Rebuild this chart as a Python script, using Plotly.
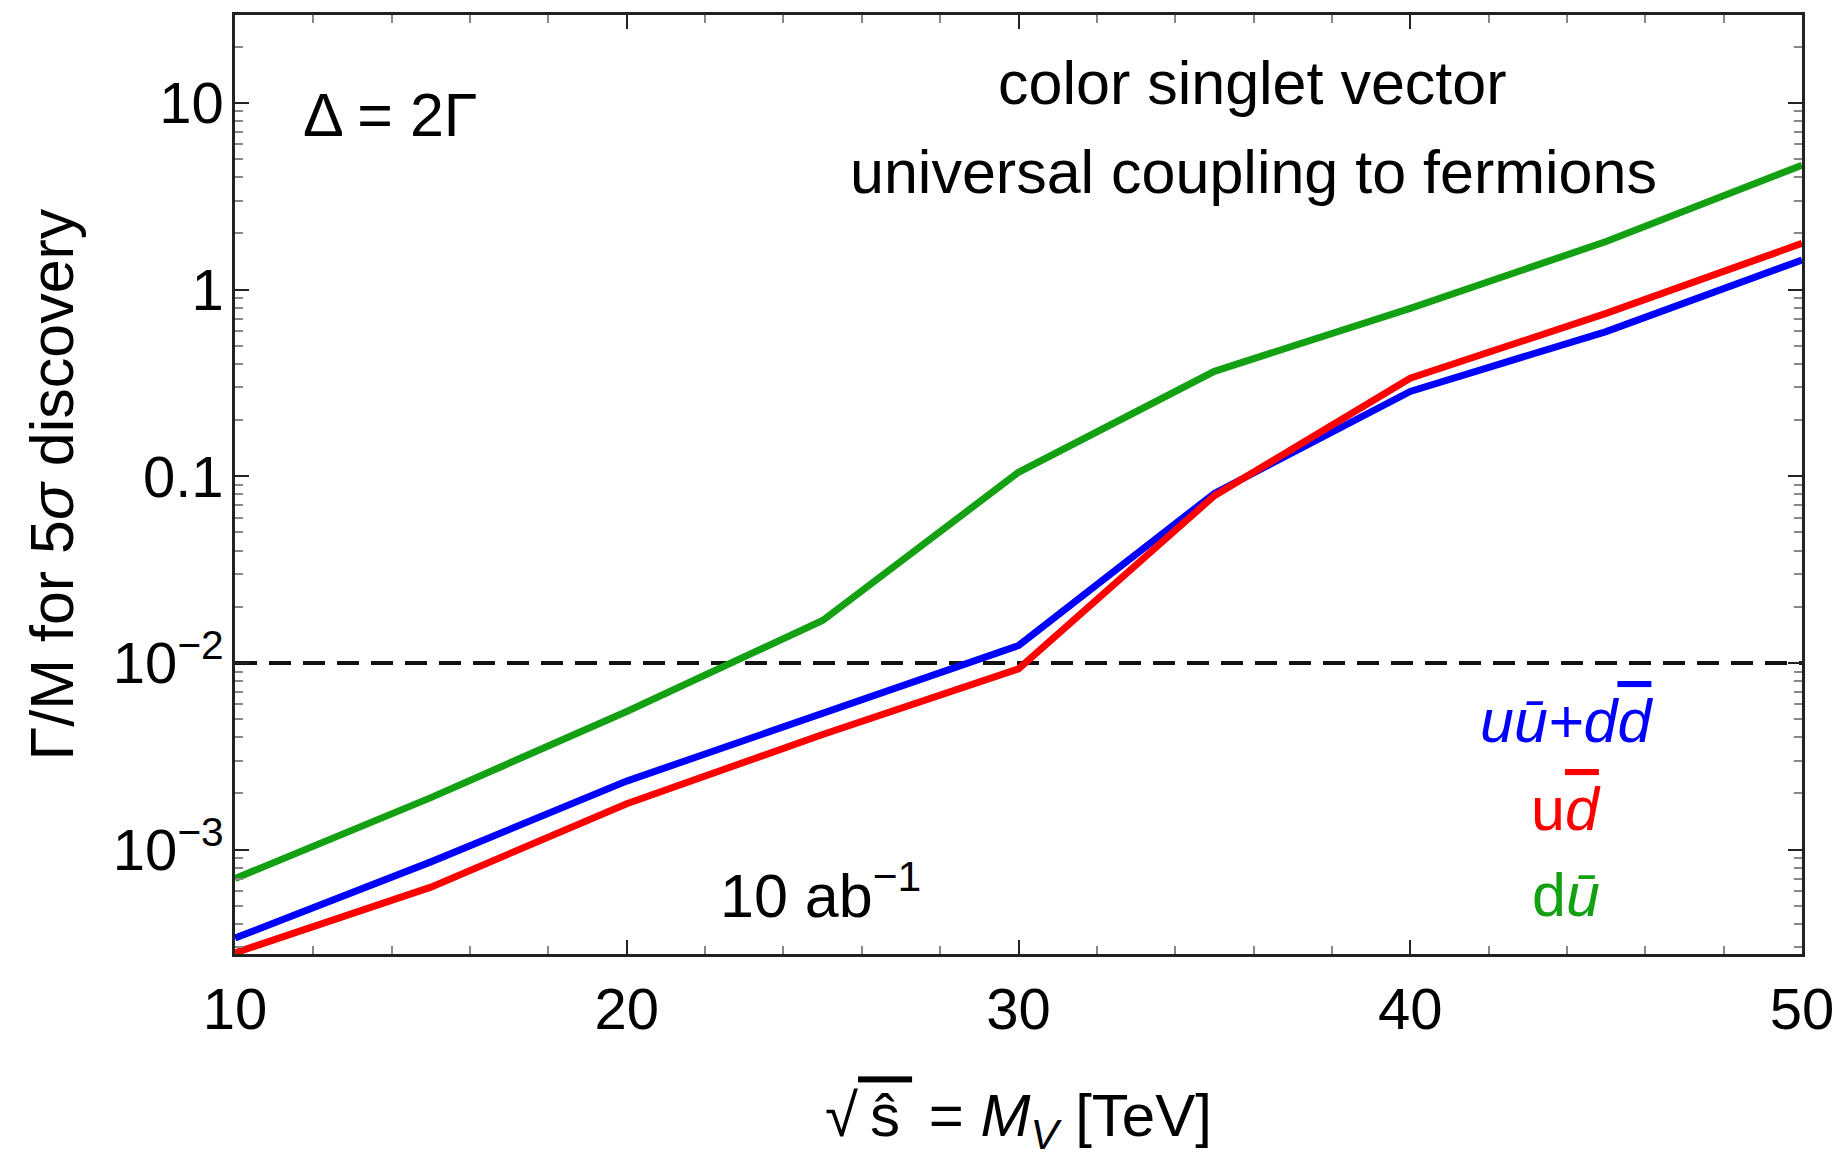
import plotly.graph_objects as go

# ---- data ----
mass_tev = [10, 15, 20, 25, 30, 35, 40, 45, 50]
uu_dd = [3.36e-4, 8.6e-4, 2.33e-3, 5.4e-3, 0.0124, 0.081, 0.285, 0.596, 1.44]
u_dbar = [2.8e-4, 6.3e-4, 1.76e-3, 4.14e-3, 9.3e-3, 0.0787, 0.335, 0.746, 1.77]
d_ubar = [7.0e-4, 1.90e-3, 5.5e-3, 0.0169, 0.105, 0.365, 0.794, 1.81, 4.64]
threshold_x = [10, 50]
threshold_y = [0.01, 0.01]

x_tickvals = [10, 20, 30, 40, 50]
x_ticktext = ["10", "20", "30", "40", "50"]
y_tickvals = [1e-3, 1e-2, 0.1, 1, 10]
y_ticktext = ["10<sup>\u22123</sup>", "10<sup>\u22122</sup>", "0.1", "1", "10"]

BLUE = "#0000ff"
RED = "#ff0000"
GREEN = "#13a013"
FONT = "Liberation Sans, Arial, Helvetica, sans-serif"

W, H = 1843, 1158
L, R, T, B = 235, 41, 15, 204

fig = go.Figure()
fig.add_trace(go.Scatter(x=threshold_x, y=threshold_y, mode="lines",
                         line=dict(color="#111111", width=4, dash="22px,12px"),
                         showlegend=False, hoverinfo="skip"))
fig.add_trace(go.Scatter(x=mass_tev, y=d_ubar, mode="lines", name="d\u016b",
                         line=dict(color=GREEN, width=7), showlegend=False))
fig.add_trace(go.Scatter(x=mass_tev, y=uu_dd, mode="lines", name="u\u016b+dd\u0304",
                         line=dict(color=BLUE, width=7), showlegend=False))
fig.add_trace(go.Scatter(x=mass_tev, y=u_dbar, mode="lines", name="ud\u0304",
                         line=dict(color=RED, width=7), showlegend=False))

minor_y = [k * 10.0 ** d for d in range(-4, 2) for k in range(2, 10)]

axis_common = dict(
    showline=True, linecolor="#222222", linewidth=2.5, mirror="allticks",
    ticks="inside", tickcolor="#222222", tickwidth=1.5, showgrid=False, zeroline=False,
    tickfont=dict(family=FONT, size=58, color="#000000"),
)

x_title = ("\u221a<span style='text-decoration:overline'>\u2009\u015d\u2009</span>"
           " = <i>M</i><sub><i>V</i></sub> [TeV]")

fig.update_xaxes(
    range=[10, 50], tickvals=x_tickvals, ticktext=x_ticktext, ticklen=14,
    minor=dict(dtick=2, ticks="inside", ticklen=8, tickcolor="#888888", tickwidth=1.5, showgrid=False),
    title=dict(text=x_title, font=dict(family=FONT, size=60, color="#000000"), standoff=61),
    ticklabelstandoff=3,
    **axis_common,
)
fig.update_yaxes(
    type="log", range=[-3.559, 1.471], tickvals=y_tickvals, ticktext=y_ticktext, ticklen=14,
    minor=dict(tickvals=minor_y, ticks="inside", ticklen=8, tickcolor="#888888", tickwidth=1.5, showgrid=False),
    title=dict(text="\u0393/M for 5<i>\u03c3</i> discovery",
               font=dict(family=FONT, size=61, color="#000000"), standoff=20),
    ticklabelstandoff=-3,
    **axis_common,
)

def px_x(p):
    return (p - L) / (W - L - R)

def px_y(p):
    return (H - B - p) / (H - T - B)

annos = [
    dict(text="\u0394 = 2\u0393", x=px_x(390), y=px_y(115), color="#000000"),
    dict(text="color singlet vector", x=px_x(1252), y=px_y(83), color="#000000"),
    dict(text="universal coupling to fermions", x=px_x(1253), y=px_y(172), color="#000000"),
    dict(text="10 ab<sup>\u22121</sup>", x=px_x(820), y=px_y(891), color="#000000"),
    dict(text="<i>u\u016b+d<span style='text-decoration:overline'>d</span></i>",
         x=px_x(1566), y=px_y(721), color=BLUE),
    dict(text="u<i><span style='text-decoration:overline'>d</span></i>",
         x=px_x(1566), y=px_y(809), color=RED),
    dict(text="d<i>\u016b</i>", x=px_x(1566), y=px_y(895), color=GREEN),
]
for a in annos:
    fig.add_annotation(text=a["text"], x=a["x"], y=a["y"], xref="paper", yref="paper",
                       xanchor="center", yanchor="middle", showarrow=False,
                       font=dict(family=FONT, size=61, color=a["color"]))

fig.update_layout(
    width=W, height=H,
    margin=dict(l=L, r=R, t=T, b=B, autoexpand=False),
    paper_bgcolor="white", plot_bgcolor="white",
    showlegend=False,
)

fig.write_html("out.html")
